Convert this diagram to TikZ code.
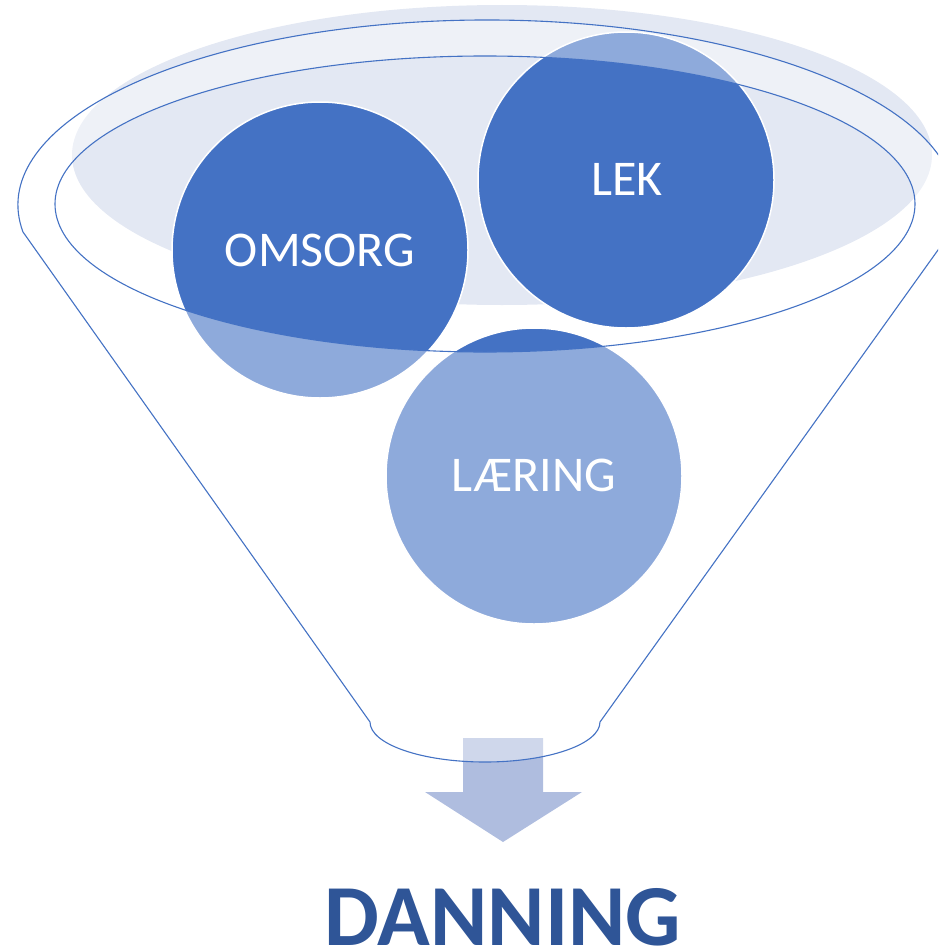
\documentclass[tikz,border=0pt]{standalone}
\usepackage{fontspec}
\setmainfont{Carlito}
\definecolor{acc}{HTML}{4472C4}
\definecolor{bgell}{HTML}{E3E8F3}
\definecolor{arrowc}{HTML}{AFBDDF}
\definecolor{darkblue}{HTML}{2F5597}
\tikzset{
  bubble/.style={circle, fill=acc, draw=white, line width=1.5pt, minimum size=296pt, inner sep=0pt},
  lbl/.style={anchor=base, text=white, inner sep=0pt, font=\fontsize{50}{60}\selectfont},
  rimline/.style={draw=acc, line width=1.1pt},
}
\begin{document}
\begin{tikzpicture}[x=1pt,y=-1pt]
\useasboundingbox (0,0) rectangle (938,950);
\clip (0,0) rectangle (938,950);
% background top ellipse
\fill[bgell] (502,155) ellipse [x radius=430, y radius=150];
% circles
\node[bubble] (omsorg) at (320,250) {};
\node[bubble] (lek) at (626,180) {};
\node[bubble] (laering) at (534,476) {};
% arrow
\fill[arrowc] (463,738) -- (543,738) -- (543,792) -- (582,792) -- (503,842) -- (425,792) -- (463,792) -- cycle;
% funnel body (translucent white)
\fill[white, fill opacity=0.4, even odd rule]
  (23,232) arc[start angle=171.6, end angle=368.4, x radius=469, y radius=185]
  -- (600,722) arc[start angle=0, end angle=180, x radius=115, y radius=40] -- cycle
  (485,204) ellipse [x radius=430, y radius=148];
% funnel outline
\draw[rimline]
  (23,232) arc[start angle=171.6, end angle=368.4, x radius=469, y radius=185]
  -- (600,722) arc[start angle=0, end angle=180, x radius=115, y radius=40] -- cycle;
\draw[rimline] (485,204) ellipse [x radius=430, y radius=148];
% labels
\node[lbl] (omsorgtxt) at (320,266) {OMSORG};
\node[lbl] (lektxt) at (627,195) {LEK};
\node[lbl] (laeringtxt) at (534,491) {LÆRING};
\node[anchor=base, inner sep=0pt, text=darkblue, font=\bfseries\fontsize{87}{100}\selectfont] (danning) at (503,945) {DANNING};
\end{tikzpicture}
\end{document}
